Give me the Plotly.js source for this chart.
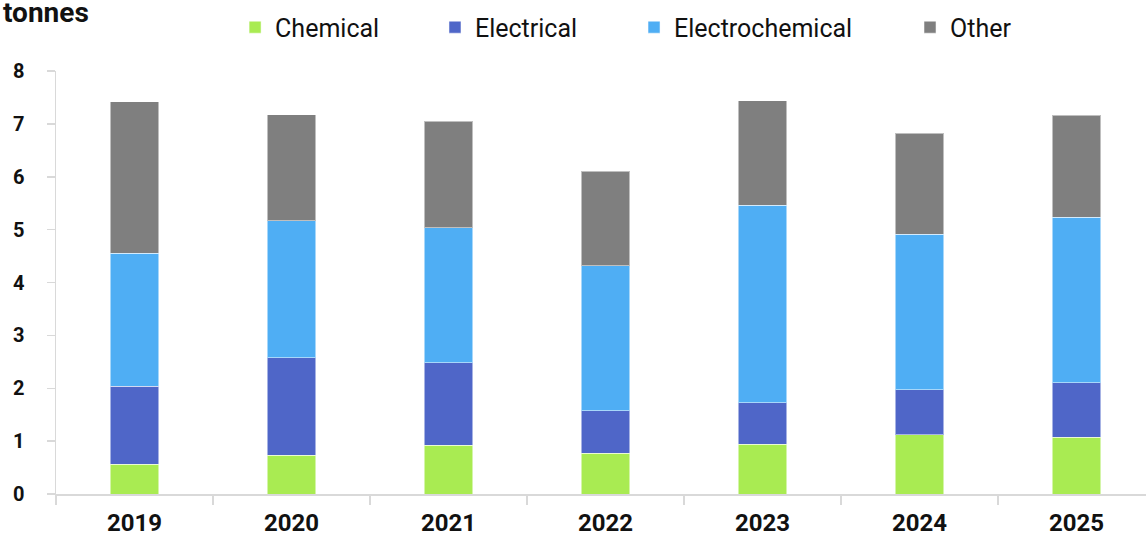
<!DOCTYPE html>
<html>
<head>
<meta charset="utf-8">
<script src="https://cdn.plot.ly/plotly-3.0.1.min.js"></script>
<style>
  html, body { margin: 0; padding: 0; background: #fff; }
  #chart { width: 1146px; height: 537px; }
</style>
</head>
<body>
<div id="chart"></div>
<script>
const years = ['2019', '2020', '2021', '2022', '2023', '2024', '2025'];
const chemical = [0.56, 0.73, 0.92, 0.77, 0.94, 1.12, 1.07];
const electrical = [1.48, 1.85, 1.56, 0.80, 0.79, 0.85, 1.03];
const electrochemical = [2.51, 2.59, 2.56, 2.75, 3.73, 2.94, 3.13];
const other = [2.87, 2.00, 2.01, 1.78, 1.98, 1.91, 1.93];
const seriesNames = ['Chemical', 'Electrical', 'Electrochemical', 'Other'];
const seriesColors = ['#A9EB52', '#4F66C8', '#4FAEF4', '#7F7F7F'];
const seriesValues = [chemical, electrical, electrochemical, other];
const legendIds = ['legend', 'legend2', 'legend3', 'legend4'];
const legendX = [0.1643, 0.3477, 0.5303, 0.7835];

const traces = seriesNames.map((name, i) => ({
  type: 'bar',
  name: name,
  x: years,
  y: seriesValues[i],
  legend: legendIds[i],
  marker: { color: seriesColors[i], line: { color: 'rgba(255,255,255,0.5)', width: 1 } },
  hoverinfo: 'x+y+name'
}));

const legendBase = {
  orientation: 'h',
  yanchor: 'middle',
  y: 1.103,
  xanchor: 'left',
  font: { family: 'Roboto', size: 25, color: '#111' },
  bgcolor: 'rgba(0,0,0,0)',
  borderwidth: 0,
  itemwidth: 30
};

const layout = {
  width: 1146,
  height: 537,
  margin: { l: 56, r: 0, t: 71, b: 43, pad: 0 },
  paper_bgcolor: '#fff',
  plot_bgcolor: '#fff',
  barmode: 'stack',
  bargap: 0.69,
  showlegend: true,
  font: { family: 'Roboto', color: '#111' },
  xaxis: {
    type: 'category',
    range: [-0.5, 6.443],
    showgrid: false,
    showline: true,
    linecolor: '#d9d9d9',
    linewidth: 1.5,
    ticks: 'outside',
    tickson: 'boundaries',
    ticklen: 9,
    tickwidth: 1.5,
    tickcolor: '#d9d9d9',
    tickfont: { family: 'Roboto', size: 24, weight: 'bold', color: '#111' },
    ticklabelstandoff: 7,
    zeroline: false,
    fixedrange: true
  },
  yaxis: {
    range: [0, 8],
    dtick: 1,
    showgrid: false,
    showline: true,
    linecolor: '#d9d9d9',
    linewidth: 1.5,
    ticks: 'outside',
    ticklen: 8,
    tickwidth: 1.5,
    tickcolor: '#d9d9d9',
    tickfont: { family: 'Roboto', size: 20, weight: 'bold', color: '#111' },
    ticklabelstandoff: 18,
    zeroline: false,
    fixedrange: true
  },
  annotations: [{
    text: 'tonnes',
    xref: 'paper', yref: 'paper',
    x: -0.0495, y: 1.139,
    xanchor: 'left', yanchor: 'middle',
    borderpad: 0,
    showarrow: false,
    font: { family: 'Roboto', size: 28, weight: 'bold', color: '#111' }
  }]
};
legendIds.forEach((id, i) => {
  layout[id] = Object.assign({}, legendBase, { x: legendX[i] });
});

Plotly.newPlot('chart', traces, layout, { displayModeBar: false, staticPlot: true });
</script>
</body>
</html>
